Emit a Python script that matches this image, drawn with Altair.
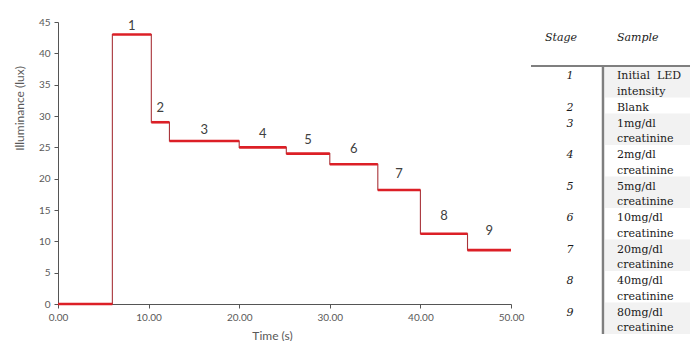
import altair as alt
import pandas as pd

# ---- chart data ----
seg_start = [0, 6, 10.3, 12.3, 20, 25.2, 30, 35.3, 40, 45.2]
seg_end = [6, 10.3, 12.3, 20, 25.2, 30, 35.3, 40, 45.2, 50]
seg_level = [0, 43, 29, 26, 25, 24, 22.3, 18.2, 11.2, 8.6]
stage_ids = ["1", "2", "3", "4", "5", "6", "7", "8", "9"]
label_y = [44.3, 31.3, 27.8, 27.2, 26.1, 24.8, 20.8, 14.1, 11.6]
x_ticks = [0, 10, 20, 30, 40, 50]
y_ticks = [0, 5, 10, 15, 20, 25, 30, 35, 40, 45]

# ---- table data ----
table_stages = ["1", "2", "3", "4", "5", "6", "7", "8", "9"]
table_samples = [
    ["Initial\u00a0\u00a0LED", "intensity"],
    ["Blank"],
    ["1mg/dl", "creatinine"],
    ["2mg/dl", "creatinine"],
    ["5mg/dl", "creatinine"],
    ["10mg/dl", "creatinine"],
    ["20mg/dl", "creatinine"],
    ["40mg/dl", "creatinine"],
    ["80mg/dl", "creatinine"],
]
header = ["Stage", "Sample"]

CHART_FONT = "Lato"
TABLE_FONT = "DejaVu Serif"

# ---------------- main step chart ----------------
segs = pd.DataFrame({"start": seg_start, "end": seg_end, "level": seg_level})
step_pts = pd.DataFrame({"t": seg_start + [seg_end[-1]], "v": seg_level + [seg_level[-1]]})
mids = [(s + e) / 2 for s, e in zip(seg_start[1:], seg_end[1:])]
labels = pd.DataFrame({"x": mids, "y": label_y, "stage": stage_ids})

xsc = alt.Scale(domain=[0, 50], nice=False, zero=False)
ysc = alt.Scale(domain=[0, 45], nice=False)

x_axis = alt.Axis(values=x_ticks, format=".2f", title="Time (s)", labelFlush=False,
                  labelOverlap=False, titleX=214, titleAlign="center")
y_axis = alt.Axis(values=y_ticks, title="Illuminance (lux)", labelFlush=False,
                  labelOverlap=False, titleY=86, titleAlign="center")

step = alt.Chart(step_pts).mark_line(
    interpolate="step-after", color="#a8343a", strokeWidth=1.1
).encode(
    x=alt.X("t:Q", scale=xsc, axis=x_axis),
    y=alt.Y("v:Q", scale=ysc, axis=y_axis),
)

flat = alt.Chart(segs).mark_rule(color="#dc1f26", strokeWidth=2.6).encode(
    x=alt.X("start:Q", scale=xsc, axis=x_axis), x2="end:Q",
    y=alt.Y("level:Q", scale=ysc, axis=y_axis),
)

txt = alt.Chart(labels).mark_text(
    font=CHART_FONT, fontSize=13, color="#404040", baseline="middle"
).encode(
    x=alt.X("x:Q", scale=xsc, axis=x_axis),
    y=alt.Y("y:Q", scale=ysc, axis=y_axis),
    text="stage:N",
)

left = alt.layer(step, flat, txt).properties(width=453, height=282)

# ---------------- table panel ----------------
TW = 162
TH = 314
TOP = 22          # approximate page y of table panel origin
rule_y = 66 - TOP
head_y = 38 - TOP
col_stage_x = 42
col_stage_head_x = 17
col_sep_x = 75
col_sample_x = 89

rows, lines = [], []
y = rule_y
for i, (st, smp) in enumerate(zip(table_stages, table_samples)):
    h = 15.5 * len(smp) + 0.5
    rows.append({"top": y, "bot": y + h, "shade": i % 2 == 0, "stage": st, "sy": y + 10})
    for j, ln in enumerate(smp):
        lines.append({"text": ln, "y": y + 10 + 15.5 * j})
    y += h
table_bottom = y
rows_df = pd.DataFrame(rows)
lines_df = pd.DataFrame(lines)

txs = alt.Scale(domain=[0, TW], nice=False, zero=False)
tys = alt.Scale(domain=[0, TH], nice=False, zero=False, reverse=True)

bg = alt.Chart(rows_df).transform_filter("datum.shade").transform_calculate(
    x1=str(col_sep_x + 2), x2=str(TW)
).mark_rect(color="#f2f2f2").encode(
    x=alt.X("x1:Q", scale=txs, axis=None), x2="x2:Q",
    y=alt.Y("top:Q", scale=tys, axis=None), y2="bot:Q",
)

hrule = alt.Chart(pd.DataFrame({"a": [3], "b": [TW], "y": [rule_y]})).mark_rule(
    color="#7f7f7f", strokeWidth=2
).encode(x=alt.X("a:Q", scale=txs, axis=None), x2="b:Q", y=alt.Y("y:Q", scale=tys, axis=None))

vrule = alt.Chart(pd.DataFrame({"x": [col_sep_x], "a": [rule_y], "b": [table_bottom]})).mark_rule(
    color="#7f7f7f", strokeWidth=2.5
).encode(x=alt.X("x:Q", scale=txs, axis=None), y=alt.Y("a:Q", scale=tys, axis=None), y2="b:Q")

head_df = pd.DataFrame({"text": header, "x": [col_stage_head_x, col_sample_x], "y": [head_y, head_y]})
head = alt.Chart(head_df).mark_text(
    font=TABLE_FONT, fontSize=11, fontStyle="italic", align="left", baseline="middle", color="#1a1a1a"
).encode(x=alt.X("x:Q", scale=txs, axis=None), y=alt.Y("y:Q", scale=tys, axis=None), text="text:N")

stg = alt.Chart(rows_df).transform_calculate(xs=str(col_stage_x)).mark_text(
    font=TABLE_FONT, fontSize=11, fontStyle="italic", align="center", baseline="middle", color="#1a1a1a"
).encode(x=alt.X("xs:Q", scale=txs, axis=None), y=alt.Y("sy:Q", scale=tys, axis=None), text="stage:N")

smp = alt.Chart(lines_df).transform_calculate(xs=str(col_sample_x)).mark_text(
    font=TABLE_FONT, fontSize=11, align="left", baseline="middle", color="#1a1a1a"
).encode(x=alt.X("xs:Q", scale=txs, axis=None), y=alt.Y("y:Q", scale=tys, axis=None), text="text:N")

table = alt.layer(bg, hrule, vrule, head, stg, smp).properties(width=TW, height=TH)

chart = alt.hconcat(left, table, spacing=4).properties(
    padding={"left": 5, "top": 9, "right": 0, "bottom": 0}
).configure_view(stroke=None).configure_axis(
    grid=False,
    domainColor="#555555",
    tickColor="#555555",
    tickSize=4,
    labelFont=CHART_FONT,
    labelFontSize=10,
    labelColor="#595959",
    labelPadding=4,
    titleFont=CHART_FONT,
    titleFontSize=12,
    titleFontWeight="normal",
    titleColor="#595959",
).configure_axisY(titlePadding=12).configure_axisX(titlePadding=8)

chart.save("out.html", embed_options={"renderer": "svg", "actions": False})
